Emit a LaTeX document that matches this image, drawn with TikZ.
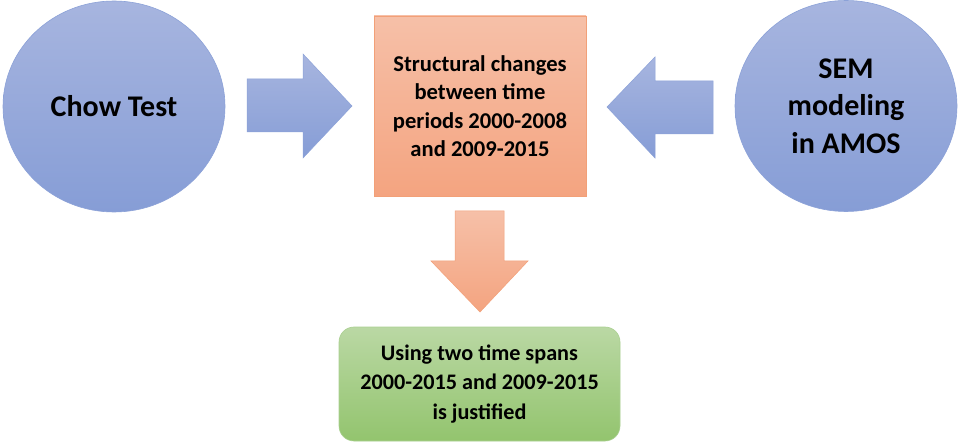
\documentclass[tikz,border=0pt]{standalone}
\usepackage{fontspec}
\setmainfont{Carlito}
\usetikzlibrary{shapes.geometric}
\definecolor{blueTop}{RGB}{167,181,223}
\definecolor{blueBot}{RGB}{134,157,214}
\definecolor{blueEdge}{RGB}{140,162,216}
\definecolor{orTop}{RGB}{246,192,168}
\definecolor{orBot}{RGB}{244,164,128}
\definecolor{orEdge}{RGB}{242,160,120}
\definecolor{grTop}{RGB}{186,216,164}
\definecolor{grBot}{RGB}{147,196,110}
\definecolor{grEdge}{RGB}{170,208,145}
\tikzset{
  bluecirc/.style={ellipse, draw=blueEdge, line width=0.6pt, top color=blueTop, bottom color=blueBot,
    minimum width=222pt, minimum height=211pt, inner sep=0pt, font=\bfseries\fontsize{30}{37.5}\selectfont, align=center},
  orbox/.style={rectangle, draw=orEdge, line width=0.6pt, top color=orTop, bottom color=orBot,
    minimum width=212pt, minimum height=180pt, inner sep=0pt, font=\bfseries\fontsize{22.6}{28.5}\selectfont, align=center},
  grbox/.style={rectangle, rounded corners=15pt, draw=grEdge, line width=0.6pt, top color=grTop, bottom color=grBot,
    minimum width=281pt, minimum height=114pt, inner sep=0pt, font=\bfseries\fontsize{22.2}{29.5}\selectfont, align=center},
  bluearrow/.style={draw=blueEdge, line width=0.5pt, top color=blueTop, bottom color=blueBot},
  orarrow/.style={draw=orEdge, line width=0.5pt, top color=orTop, bottom color=orBot},
}
\begin{document}
\begin{tikzpicture}[x=1pt, y=-1pt]
  \useasboundingbox (0,0) rectangle (958,446);
  \fill[white] (0,0) rectangle (958,446);
  % left and right inputs
  \node[bluecirc] (chow) at (114,106.5) {Chow Test};
  \node[bluecirc] (sem) at (846,106) {SEM\\modeling\\in AMOS};
  % central finding
  \node[orbox] (struct) at (480,106) {Structural changes\\between time\\periods 2000-2008\\and 2009-2015};
  % conclusion
  \node[grbox] (concl) at (479.5,384) {Using two time spans\\2000-2015 and 2009-2015\\is justified};
  % block arrows
  \path[bluearrow] (247,79) -- (303,79) -- (303,54) -- (352,106) -- (303,158) -- (303,132) -- (247,132) -- cycle;
  \path[bluearrow] (713,81) -- (655,81) -- (655,57) -- (607,107) -- (655,158) -- (655,134) -- (713,134) -- cycle;
  \path[orarrow] (455,211) -- (504,211) -- (504,261) -- (528,261) -- (480,312) -- (431,261) -- (455,261) -- cycle;
\end{tikzpicture}
\end{document}
